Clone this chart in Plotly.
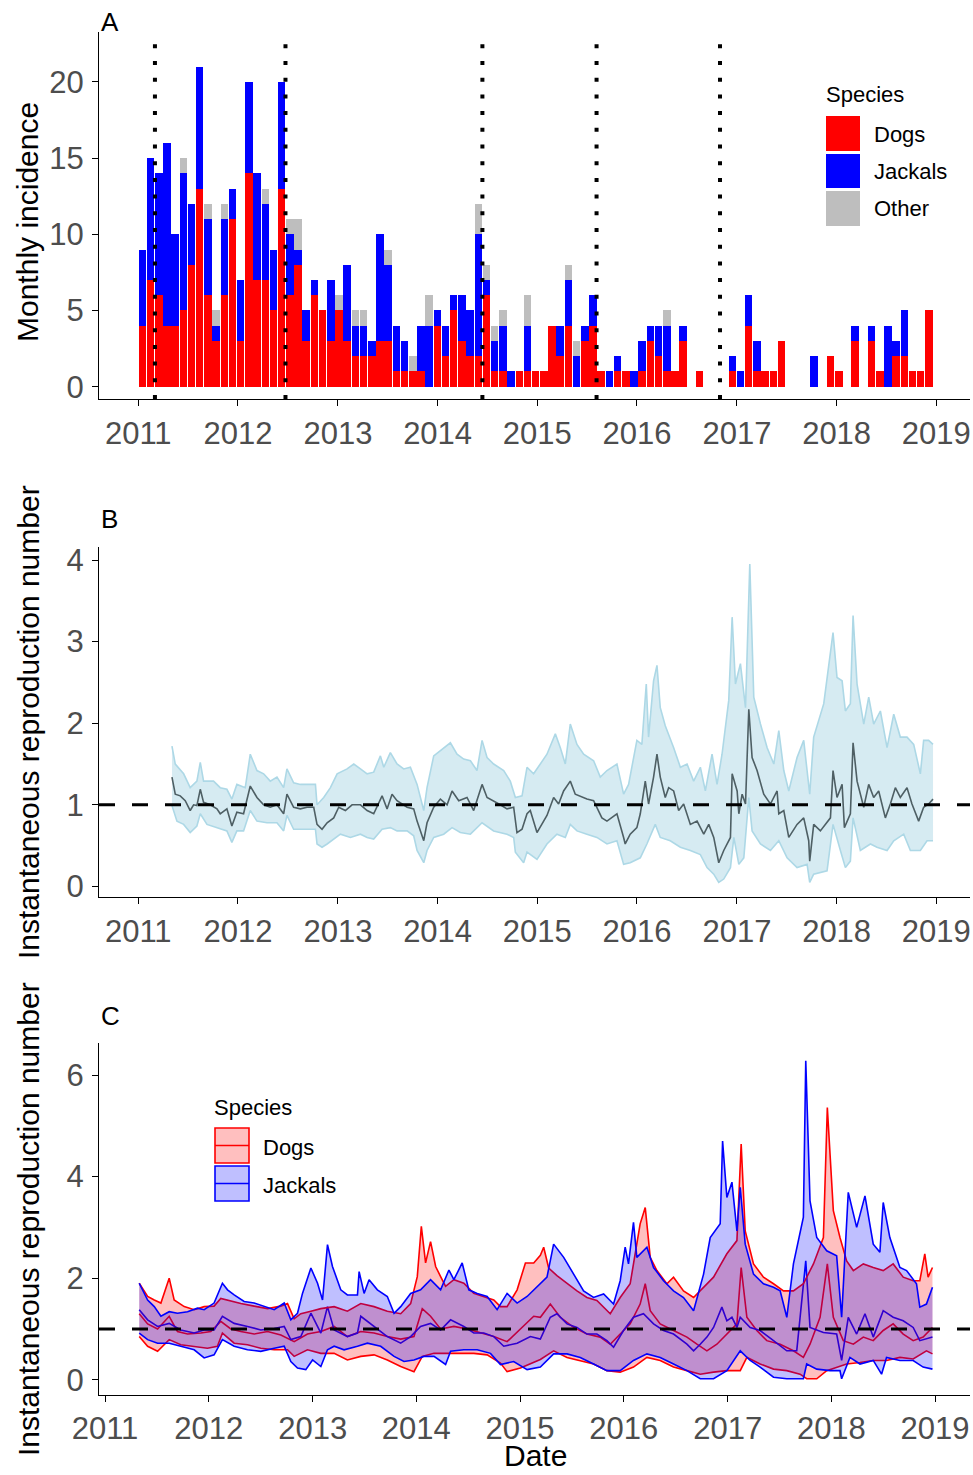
import pandas as pd
import plotly.graph_objects as go
from datetime import datetime

# ---------------- Panel A: monthly incidence (30-day bins from 2011-01-01) ----------------
bin_start = "2011-01-01"
bin_days = 30
dogs = [4, 7, 6, 4, 4, 5, 8, 13, 6, 3, 6, 11, 3, 14, 7, 7, 5, 13, 6, 8,
        3, 6, 5, 3, 5, 3, 2, 2, 2, 3, 3, 1, 1, 1, 1, 0, 4, 2, 5, 3,
        2, 2, 6, 1, 1, 0, 1, 1, 1, 1, 4, 2, 4, 0, 3, 4, 1, 0, 1, 1,
        0, 1, 3, 2, 1, 1, 3, 0, 1, 0, 0, 0, 1, 0, 4, 1, 1, 1, 3, 0,
        0, 0, 0, 0, 2, 1, 0, 3, 0, 3, 1, 0, 2, 2, 1, 1, 5]
jackals = [5, 8, 8, 12, 6, 9, 4, 8, 5, 1, 5, 2, 4, 6, 7, 5, 4, 7, 4, 1,
           2, 1, 0, 4, 0, 5, 2, 2, 1, 7, 5, 3, 2, 0, 3, 4, 1, 2, 1, 3,
           3, 8, 1, 2, 3, 1, 0, 3, 0, 0, 0, 2, 3, 2, 1, 2, 0, 1, 1, 0,
           1, 2, 1, 2, 3, 0, 1, 0, 0, 0, 0, 0, 1, 1, 2, 2, 0, 0, 0, 0,
           0, 0, 2, 0, 0, 0, 0, 1, 0, 1, 0, 4, 1, 3, 0, 0, 0]
other = [0, 0, 0, 0, 0, 1, 0, 0, 1, 1, 1, 0, 0, 0, 0, 1, 0, 0, 1, 2,
         0, 0, 0, 0, 1, 0, 1, 1, 0, 0, 1, 0, 0, 1, 0, 2, 0, 0, 0, 0,
         0, 2, 1, 1, 1, 0, 0, 2, 0, 0, 0, 0, 1, 1, 0, 0, 0, 0, 0, 0,
         0, 0, 0, 0, 1, 0, 0, 0, 0, 0, 0, 0, 0, 0, 0, 0, 0, 0, 0, 0,
         0, 0, 0, 0, 0, 0, 0, 0, 0, 0, 0, 0, 0, 0, 0, 0, 0]
event_dates = ["2011-03-03", "2012-06-23", "2014-06-14", "2015-08-06", "2016-10-31"]

# ---------------- Panel B: overall Rt (decimal years) ----------------
b_mean_t = [2011.338, 2011.371, 2011.421, 2011.471, 2011.521, 2011.555, 2011.588, 2011.622, 2011.655, 2011.722,
            2011.789, 2011.822, 2011.889, 2011.939, 2011.989, 2012.056, 2012.123, 2012.190, 2012.257, 2012.323,
            2012.390, 2012.457, 2012.490, 2012.557, 2012.624, 2012.691, 2012.758, 2012.791, 2012.841, 2012.892,
            2012.958, 2013.008, 2013.075, 2013.142, 2013.226, 2013.293, 2013.359, 2013.443, 2013.493, 2013.543,
            2013.593, 2013.694, 2013.760, 2013.794, 2013.861, 2013.894, 2013.961, 2014.028, 2014.095, 2014.145,
            2014.212, 2014.295, 2014.362, 2014.446, 2014.496, 2014.562, 2014.629, 2014.696, 2014.763, 2014.796,
            2014.847, 2014.897, 2014.930, 2014.997, 2015.064,
            2015.097, 2015.164, 2015.214, 2015.264, 2015.331, 2015.381, 2015.448, 2015.498, 2015.565, 2015.648,
            2015.699, 2015.799, 2015.866, 2015.882, 2015.932, 2015.999, 2016.033, 2016.083, 2016.116, 2016.166,
            2016.200, 2016.233, 2016.283, 2016.317, 2016.367, 2016.417, 2016.467, 2016.534, 2016.601, 2016.668,
            2016.718, 2016.768, 2016.818, 2016.868, 2016.935, 2016.952, 2017.002, 2017.019, 2017.052, 2017.086,
            2017.119, 2017.152, 2017.202, 2017.269, 2017.336, 2017.403, 2017.420, 2017.470, 2017.520, 2017.603,
            2017.670, 2017.720, 2017.730, 2017.770, 2017.837, 2017.938, 2017.964, 2018.004, 2018.055, 2018.078,
            2018.138, 2018.165, 2018.205, 2018.272, 2018.322, 2018.372, 2018.422, 2018.489, 2018.539, 2018.589,
            2018.639, 2018.706, 2018.756, 2018.823, 2018.873, 2018.923, 2018.967]
b_mean = [1.34, 1.13, 1.11, 1.05, 0.93, 1.00, 0.99, 1.19, 1.03, 1.00,
          0.95, 0.89, 0.95, 0.74, 0.91, 0.89, 1.23, 1.09, 1.00, 0.97,
          1.00, 0.89, 1.13, 0.97, 0.95, 0.97, 0.97, 0.76, 0.70, 0.78,
          0.84, 0.97, 0.93, 1.00, 1.00, 0.93, 0.89, 1.11, 0.95, 1.13,
          1.05, 0.97, 0.95, 0.80, 0.56, 0.78, 0.97, 1.07, 1.00, 1.17,
          1.05, 1.09, 0.93, 1.25, 1.09, 1.05, 1.00, 0.95, 0.97, 0.66,
          0.70, 0.89, 0.93, 0.66, 0.80,
          0.87, 1.09, 1.01, 1.17, 1.29, 1.13, 1.09, 1.07, 1.05, 0.84,
          0.80, 0.89, 0.60, 0.52, 0.64, 0.72, 0.89, 1.29, 1.01, 1.34,
          1.62, 1.34, 1.09, 1.21, 1.17, 0.93, 1.01, 0.76, 0.80, 0.64,
          0.76, 0.60, 0.29, 0.44, 0.60, 1.38, 1.17, 0.89, 1.13, 1.01,
          2.17, 1.58, 1.42, 1.13, 1.01, 1.17, 0.89, 0.93, 0.60, 0.76,
          0.84, 0.56, 0.31, 0.76, 0.68, 0.84, 1.42, 1.09, 1.25, 0.72,
          0.89, 1.76, 1.29, 0.97, 1.25, 1.09, 1.17, 0.84, 1.01, 1.21,
          1.09, 1.21, 1.01, 0.80, 0.97, 1.01, 1.07]
b_hi_t = [2011.338, 2011.371, 2011.455, 2011.521, 2011.588, 2011.622, 2011.655, 2011.755, 2011.822, 2011.889,
          2011.939, 2011.989, 2012.073, 2012.123, 2012.190, 2012.257, 2012.323, 2012.390, 2012.457, 2012.490,
          2012.557, 2012.624, 2012.691, 2012.775, 2012.791, 2012.858, 2012.925, 2012.992, 2013.092, 2013.159,
          2013.226, 2013.293, 2013.359, 2013.426, 2013.460, 2013.526, 2013.593, 2013.660, 2013.727, 2013.794,
          2013.861, 2013.894, 2013.961, 2014.028, 2014.128, 2014.195, 2014.262, 2014.329, 2014.395, 2014.446,
          2014.496, 2014.562, 2014.663, 2014.729, 2014.780, 2014.847, 2014.897, 2014.963, 2015.030,
          2015.097, 2015.181, 2015.231, 2015.281, 2015.331, 2015.398, 2015.465, 2015.565, 2015.632, 2015.699,
          2015.799, 2015.866, 2015.916, 2015.999, 2016.049, 2016.093, 2016.116, 2016.166, 2016.200, 2016.233,
          2016.283, 2016.367, 2016.434, 2016.501, 2016.567, 2016.634, 2016.684, 2016.751, 2016.801, 2016.851,
          2016.918, 2016.952, 2016.985, 2017.035, 2017.086, 2017.129, 2017.169, 2017.236, 2017.303, 2017.370,
          2017.420, 2017.470, 2017.520, 2017.603, 2017.670, 2017.730, 2017.770, 2017.871, 2017.964, 2018.004,
          2018.055, 2018.088, 2018.138, 2018.165, 2018.205, 2018.272, 2018.322, 2018.372, 2018.439, 2018.506,
          2018.573, 2018.639, 2018.706, 2018.773, 2018.840, 2018.873, 2018.923, 2018.967]
b_hi = [1.72, 1.50, 1.38, 1.21, 1.29, 1.52, 1.29, 1.29, 1.21, 1.19,
        1.07, 1.25, 1.21, 1.62, 1.42, 1.38, 1.29, 1.34, 1.21, 1.44,
        1.27, 1.25, 1.25, 1.25, 1.00, 1.09, 1.21, 1.38, 1.44, 1.50,
        1.44, 1.38, 1.40, 1.60, 1.46, 1.64, 1.50, 1.44, 1.46, 1.25,
        0.93, 1.21, 1.60, 1.66, 1.76, 1.62, 1.56, 1.54, 1.42, 1.79,
        1.58, 1.50, 1.42, 1.29, 1.09, 1.11, 1.46, 1.38, 1.50,
        1.62, 1.87, 1.70, 1.50, 1.99, 1.74, 1.62, 1.54, 1.34, 1.42,
        1.50, 1.13, 1.25, 1.79, 1.74, 2.48, 1.83, 2.52, 2.71, 2.19,
        1.97, 1.70, 1.46, 1.50, 1.29, 1.46, 1.17, 1.62, 1.25, 1.62,
        2.28, 3.30, 2.48, 2.73, 2.19, 3.95, 2.32, 1.99, 1.70, 1.50,
        1.91, 1.42, 1.17, 1.58, 1.79, 1.13, 1.83, 2.24, 3.11, 2.56,
        2.52, 2.15, 2.24, 3.32, 2.48, 1.99, 2.32, 1.99, 2.15, 1.70,
        2.11, 1.83, 1.83, 1.74, 1.38, 1.79, 1.79, 1.74]
b_lo_t = [2011.338, 2011.388, 2011.455, 2011.521, 2011.588, 2011.622, 2011.689, 2011.789, 2011.889, 2011.939,
          2011.989, 2012.056, 2012.123, 2012.190, 2012.290, 2012.390, 2012.457, 2012.490, 2012.557, 2012.691,
          2012.775, 2012.791, 2012.841, 2012.892, 2012.958, 2013.025, 2013.125, 2013.226, 2013.293, 2013.359,
          2013.443, 2013.526, 2013.593, 2013.694, 2013.760, 2013.794, 2013.861, 2013.894, 2013.961, 2014.061,
          2014.145, 2014.228, 2014.329, 2014.446, 2014.562, 2014.696, 2014.763, 2014.780, 2014.863, 2014.897,
          2014.997,
          2015.097, 2015.197, 2015.281, 2015.331, 2015.398, 2015.498, 2015.598, 2015.699, 2015.799, 2015.866,
          2015.932, 2016.033, 2016.099, 2016.183, 2016.233, 2016.333, 2016.434, 2016.534, 2016.634, 2016.701,
          2016.768, 2016.818, 2016.868, 2016.935, 2016.969, 2017.019, 2017.069, 2017.119, 2017.152, 2017.236,
          2017.336, 2017.420, 2017.503, 2017.603, 2017.704, 2017.730, 2017.770, 2017.904, 2017.964, 2018.038,
          2018.088, 2018.138, 2018.165, 2018.238, 2018.339, 2018.405, 2018.506, 2018.573, 2018.673, 2018.740,
          2018.840, 2018.907, 2018.967]
b_lo = [0.99, 0.80, 0.76, 0.66, 0.74, 0.89, 0.76, 0.72, 0.68, 0.54,
        0.68, 0.68, 0.93, 0.80, 0.78, 0.78, 0.68, 0.87, 0.70, 0.70,
        0.70, 0.52, 0.48, 0.52, 0.58, 0.64, 0.60, 0.64, 0.60, 0.58,
        0.70, 0.72, 0.68, 0.68, 0.62, 0.44, 0.29, 0.44, 0.60, 0.64,
        0.72, 0.66, 0.64, 0.78, 0.68, 0.64, 0.60, 0.42, 0.29, 0.42,
        0.33,
        0.52, 0.64, 0.60, 0.76, 0.68, 0.64, 0.60, 0.52, 0.56, 0.27,
        0.29, 0.35, 0.52, 0.76, 0.60, 0.56, 0.48, 0.44, 0.39, 0.23,
        0.15, 0.05, 0.09, 0.23, 0.60, 0.27, 0.35, 1.09, 0.68, 0.52,
        0.44, 0.56, 0.35, 0.23, 0.27, 0.05, 0.15, 0.19, 0.76, 0.44,
        0.23, 0.31, 0.84, 0.44, 0.52, 0.48, 0.44, 0.56, 0.64, 0.44,
        0.44, 0.56, 0.56]

# ---------------- Panel C: Rt by species (decimal years) ----------------
dog_hi_t = [2011.330, 2011.411, 2011.475, 2011.539, 2011.619, 2011.667, 2011.764, 2011.860, 2011.956, 2012.052,
            2012.116, 2012.213, 2012.309, 2012.437, 2012.566, 2012.694, 2012.758, 2012.822, 2012.886, 2012.983,
            2013.079, 2013.207, 2013.335, 2013.464, 2013.592, 2013.720, 2013.849, 2013.945, 2014.009, 2014.048,
            2014.089, 2014.137, 2014.186, 2014.234, 2014.282, 2014.362, 2014.458, 2014.554, 2014.651, 2014.747,
            2014.811, 2014.875, 2014.972, 2015.052, 2015.132, 2015.196,
            2015.228, 2015.276, 2015.356, 2015.453, 2015.549, 2015.645, 2015.741, 2015.870, 2015.966, 2016.062,
            2016.158, 2016.207, 2016.255, 2016.319, 2016.415, 2016.479, 2016.575, 2016.672, 2016.768, 2016.864,
            2016.992, 2017.089, 2017.130, 2017.169, 2017.249, 2017.345, 2017.442, 2017.538, 2017.634, 2017.730,
            2017.827, 2017.923, 2017.961, 2018.019, 2018.083, 2018.147, 2018.212, 2018.308, 2018.404, 2018.500,
            2018.596, 2018.693, 2018.789, 2018.853, 2018.901, 2018.933, 2018.975]
dog_hi = [1.90, 1.64, 1.57, 1.51, 2.00, 1.57, 1.44, 1.38, 1.44, 1.45,
          1.60, 1.55, 1.50, 1.45, 1.40, 1.45, 1.50, 1.20, 1.30, 1.35,
          1.40, 1.44, 1.35, 1.50, 1.44, 1.35, 1.30, 1.50, 2.03, 3.02,
          2.30, 2.72, 2.23, 2.03, 1.84, 1.97, 1.90, 1.70, 1.64, 1.57,
          1.44, 1.44, 1.77, 2.30, 2.30, 2.45,
          2.61, 2.20, 2.05, 1.89, 1.75, 1.62, 1.56, 1.30, 1.62, 1.89,
          3.07, 3.39, 2.41, 2.15, 1.89, 2.02, 1.75, 1.62, 1.82, 2.02,
          2.48, 2.74, 4.64, 2.93, 2.28, 2.02, 1.89, 1.75, 1.75, 1.89,
          2.28, 2.80, 5.36, 3.33, 2.80, 2.34, 2.15, 2.28, 2.21, 2.15,
          2.28, 2.02, 1.95, 1.95, 2.48, 2.02, 2.21]
dog_mean_t = [2011.330, 2011.411, 2011.507, 2011.619, 2011.699, 2011.796, 2011.924, 2012.020, 2012.116, 2012.213,
              2012.309, 2012.437, 2012.566, 2012.694, 2012.822, 2012.950, 2013.079, 2013.207, 2013.335, 2013.464,
              2013.592, 2013.720, 2013.849, 2013.977, 2014.057, 2014.137, 2014.234, 2014.362, 2014.490, 2014.619,
              2014.747, 2014.875, 2015.004, 2015.132,
              2015.196, 2015.292, 2015.388, 2015.517, 2015.645, 2015.773, 2015.870, 2015.966, 2016.062, 2016.158,
              2016.207, 2016.255, 2016.351, 2016.479, 2016.608, 2016.704, 2016.800, 2016.896, 2016.992, 2017.089,
              2017.130, 2017.185, 2017.281, 2017.377, 2017.506, 2017.634, 2017.730, 2017.794, 2017.891, 2017.961,
              2018.019, 2018.115, 2018.212, 2018.308, 2018.404, 2018.500, 2018.596, 2018.693, 2018.789, 2018.885,
              2018.975]
dog_mean = [1.30, 1.10, 1.00, 1.25, 0.95, 0.90, 0.92, 0.95, 1.15, 1.00,
            0.95, 0.90, 0.95, 0.88, 0.75, 0.90, 0.95, 1.05, 0.85, 0.95,
            0.92, 0.85, 0.80, 0.85, 1.40, 1.25, 1.00, 1.05, 1.00, 0.92,
            0.85, 0.75, 1.00, 1.25,
            1.23, 1.49, 1.23, 1.03, 0.90, 0.84, 0.70, 0.90, 1.10, 1.49,
            1.89, 1.36, 1.10, 0.97, 0.84, 0.70, 0.57, 0.70, 0.90, 1.10,
            2.21, 1.23, 0.97, 0.77, 0.70, 0.57, 0.44, 0.70, 1.23, 2.28,
            1.23, 0.77, 0.70, 0.84, 0.77, 0.97, 1.10, 0.90, 0.77, 0.84,
            1.03]
dog_lo_t = [2011.330, 2011.411, 2011.507, 2011.619, 2011.731, 2011.860, 2011.988, 2012.084, 2012.132, 2012.245,
            2012.373, 2012.501, 2012.630, 2012.758, 2012.822, 2012.950, 2013.079, 2013.207, 2013.335, 2013.464,
            2013.592, 2013.720, 2013.849, 2013.977, 2014.057, 2014.170, 2014.298, 2014.426, 2014.554, 2014.683,
            2014.811, 2014.875, 2015.004, 2015.196,
            2015.324, 2015.453, 2015.581, 2015.709, 2015.838, 2015.966, 2016.094, 2016.223, 2016.351, 2016.479,
            2016.608, 2016.736, 2016.864, 2016.992, 2017.121, 2017.185, 2017.313, 2017.442, 2017.570, 2017.698,
            2017.762, 2017.859, 2017.955, 2018.051, 2018.147, 2018.276, 2018.404, 2018.532, 2018.661, 2018.789,
            2018.917, 2018.975]
dog_lo = [0.85, 0.66, 0.56, 0.79, 0.69, 0.66, 0.62, 0.66, 0.92, 0.72,
          0.69, 0.62, 0.59, 0.59, 0.46, 0.59, 0.52, 0.52, 0.39, 0.46,
          0.49, 0.39, 0.26, 0.16, 0.46, 0.52, 0.52, 0.52, 0.52, 0.49,
          0.33, 0.16, 0.23, 0.40,
          0.57, 0.44, 0.38, 0.31, 0.18, 0.15, 0.25, 0.44, 0.38, 0.25,
          0.18, 0.11, 0.15, 0.18, 0.18, 0.44, 0.31, 0.21, 0.18, 0.11,
          0.02, 0.02, 0.18, 0.25, 0.31, 0.34, 0.38, 0.38, 0.44, 0.41,
          0.57, 0.51]
jac_hi_t = [2011.330, 2011.411, 2011.475, 2011.539, 2011.619, 2011.699, 2011.796, 2011.892, 2011.956, 2012.052,
            2012.132, 2012.181, 2012.245, 2012.341, 2012.437, 2012.533, 2012.630, 2012.726, 2012.790, 2012.854,
            2012.902, 2012.983, 2013.047, 2013.095, 2013.143, 2013.191, 2013.271, 2013.335, 2013.432, 2013.448,
            2013.496, 2013.544, 2013.624, 2013.720, 2013.785, 2013.849, 2013.945, 2014.041, 2014.137, 2014.234,
            2014.314, 2014.362, 2014.442, 2014.506, 2014.587, 2014.683, 2014.779, 2014.875, 2014.972, 2015.068,
            2015.196,
            2015.260, 2015.324, 2015.372, 2015.421, 2015.517, 2015.613, 2015.709, 2015.806, 2015.902, 2015.966,
            2016.014, 2016.046, 2016.094, 2016.126, 2016.223, 2016.287, 2016.383, 2016.479, 2016.575, 2016.672,
            2016.768, 2016.832, 2016.928, 2016.951, 2016.992, 2017.041, 2017.089, 2017.121, 2017.169, 2017.249,
            2017.345, 2017.442, 2017.506, 2017.570, 2017.634, 2017.730, 2017.753, 2017.794, 2017.859, 2017.955,
            2018.051, 2018.099, 2018.163, 2018.244, 2018.324, 2018.404, 2018.468, 2018.500, 2018.564, 2018.661,
            2018.725, 2018.821, 2018.853, 2018.917, 2018.975]
jac_hi = [1.90, 1.57, 1.44, 1.25, 1.34, 1.31, 1.34, 1.41, 1.38, 1.51,
          1.90, 1.77, 1.67, 1.54, 1.51, 1.44, 1.38, 1.51, 1.18, 1.31,
          1.70, 2.20, 1.90, 1.57, 2.66, 2.23, 1.77, 1.67, 1.67, 2.13,
          1.70, 1.97, 1.77, 1.64, 1.31, 1.44, 1.70, 1.77, 1.97, 1.77,
          2.16, 1.97, 2.30, 1.77, 1.70, 1.64, 1.38, 1.70, 1.51, 1.64,
          1.90,
          2.02, 2.67, 2.54, 2.41, 2.08, 1.75, 1.62, 1.69, 1.49, 1.95,
          2.61, 2.28, 3.10, 2.41, 2.61, 2.21, 1.95, 1.75, 1.62, 1.36,
          2.08, 2.80, 3.07, 4.70, 3.59, 3.89, 2.93, 3.79, 2.67, 2.08,
          1.89, 1.82, 1.75, 1.23, 2.28, 3.20, 6.28, 3.52, 2.80, 2.54,
          2.44, 1.23, 3.69, 3.00, 3.62, 2.67, 2.51, 3.49, 2.80, 2.21,
          2.15, 1.89, 1.43, 1.49, 1.82]
jac_mean_t = [2011.330, 2011.411, 2011.507, 2011.619, 2011.731, 2011.860, 2011.956, 2012.052, 2012.132, 2012.245,
              2012.373, 2012.501, 2012.630, 2012.726, 2012.790, 2012.886, 2012.983, 2013.079, 2013.143, 2013.207,
              2013.335, 2013.432, 2013.464, 2013.592, 2013.720, 2013.849, 2013.945, 2014.041, 2014.137, 2014.234,
              2014.330, 2014.458, 2014.554, 2014.651, 2014.747, 2014.843, 2014.972, 2015.100, 2015.196,
              2015.292, 2015.356, 2015.453, 2015.549, 2015.645, 2015.741, 2015.838, 2015.902, 2015.998, 2016.094,
              2016.190, 2016.287, 2016.383, 2016.479, 2016.608, 2016.672, 2016.736, 2016.800, 2016.864, 2016.944,
              2016.992, 2017.041, 2017.089, 2017.121, 2017.217, 2017.313, 2017.442, 2017.570, 2017.666, 2017.753,
              2017.794, 2017.923, 2018.051, 2018.099, 2018.163, 2018.244, 2018.324, 2018.404, 2018.500, 2018.596,
              2018.693, 2018.789, 2018.853, 2018.975]
jac_mean = [1.38, 1.18, 1.05, 1.11, 0.98, 0.92, 0.98, 0.98, 1.25, 1.11,
            1.05, 0.98, 1.01, 1.05, 0.79, 0.85, 1.31, 0.92, 1.44, 0.98,
            0.85, 0.92, 1.25, 1.05, 0.85, 0.72, 0.85, 1.05, 1.11, 0.98,
            1.18, 1.05, 0.92, 0.92, 0.85, 0.66, 0.72, 0.85, 0.80,
            1.23, 1.30, 1.10, 1.03, 0.90, 0.90, 0.77, 0.64, 0.97, 1.23,
            1.30, 1.10, 0.97, 0.90, 0.70, 0.57, 0.70, 0.84, 1.03, 1.43,
            1.16, 1.23, 1.03, 1.23, 1.03, 0.97, 0.77, 0.57, 0.57, 2.34,
            1.03, 0.93, 0.90, 0.38, 1.23, 0.90, 1.30, 0.84, 1.36, 1.23,
            1.16, 1.03, 0.77, 0.84]
jac_lo_t = [2011.330, 2011.411, 2011.507, 2011.619, 2011.731, 2011.860, 2011.956, 2012.052, 2012.132, 2012.245,
            2012.373, 2012.501, 2012.630, 2012.726, 2012.790, 2012.854, 2012.934, 2012.999, 2013.079, 2013.143,
            2013.207, 2013.303, 2013.432, 2013.528, 2013.656, 2013.785, 2013.881, 2013.977, 2014.073, 2014.170,
            2014.282, 2014.330, 2014.458, 2014.587, 2014.715, 2014.811, 2014.939, 2015.068, 2015.196,
            2015.324, 2015.453, 2015.581, 2015.709, 2015.838, 2015.966, 2016.094, 2016.223, 2016.351, 2016.479,
            2016.608, 2016.736, 2016.864, 2016.992, 2017.121, 2017.217, 2017.313, 2017.442, 2017.570, 2017.730,
            2017.762, 2017.859, 2017.987, 2018.083, 2018.099, 2018.179, 2018.276, 2018.404, 2018.484, 2018.532,
            2018.661, 2018.789, 2018.885, 2018.975]
jac_lo = [0.92, 0.79, 0.72, 0.72, 0.66, 0.59, 0.43, 0.49, 0.79, 0.66,
          0.59, 0.56, 0.62, 0.66, 0.36, 0.23, 0.20, 0.39, 0.26, 0.59,
          0.66, 0.59, 0.66, 0.72, 0.66, 0.46, 0.36, 0.39, 0.46, 0.46,
          0.30, 0.56, 0.59, 0.59, 0.52, 0.30, 0.36, 0.20, 0.25,
          0.51, 0.51, 0.44, 0.31, 0.18, 0.18, 0.38, 0.51, 0.44, 0.31,
          0.18, 0.02, 0.02, 0.18, 0.57, 0.38, 0.25, 0.05, 0.02, 0.02,
          0.31, 0.21, 0.18, 0.18, 0.02, 0.44, 0.31, 0.38, 0.11, 0.44,
          0.38, 0.38, 0.25, 0.21]

years = list(range(2011, 2020))


# ---------------- helpers ----------------
def to_date(y):
    yr = int(y)
    a = datetime(yr, 1, 1)
    b = datetime(yr + 1, 1, 1)
    return a + (b - a) * (y - yr)


def dates(ts):
    return [to_date(t) for t in ts]


W, H = 973, 1475
FONT = "Liberation Sans, Arial, sans-serif"


def px(x):
    return x / W


def py(y):
    return 1 - y / H


fig = go.Figure()

# Panel A bars
bins = pd.date_range(bin_start, periods=len(dogs), freq=f"{bin_days}D") + pd.Timedelta(days=bin_days / 2)
bar_w = 27.5 * 86400000
for name, vals, col in [("Dogs", dogs, "#ff0000"), ("Jackals", jackals, "#0000ff"), ("Other", other, "#bebebe")]:
    fig.add_trace(go.Bar(x=bins, y=vals, name=name, marker=dict(color=col, line=dict(width=0)),
                         width=bar_w, xaxis="x", yaxis="y", showlegend=False))

# Panel B
bh, bl = dates(b_hi_t), dates(b_lo_t)
fig.add_trace(go.Scatter(x=bh + bl[::-1], y=b_hi + b_lo[::-1], fill="toself",
                         fillcolor="rgba(173,216,230,0.5)", line=dict(width=0), mode="lines",
                         hoverinfo="skip", xaxis="x2", yaxis="y2", showlegend=False))
for tt, vv in [(bh, b_hi), (bl, b_lo)]:
    fig.add_trace(go.Scatter(x=tt, y=vv, mode="lines", line=dict(color="#add8e6", width=1.6),
                             xaxis="x2", yaxis="y2", showlegend=False))
fig.add_trace(go.Scatter(x=dates(b_mean_t), y=b_mean, mode="lines", line=dict(color="#4e5f64", width=1.6),
                         xaxis="x2", yaxis="y2", showlegend=False))

# Panel C
fig.add_trace(go.Scatter(x=dates(dog_mean_t), y=dog_mean, mode="lines", line=dict(color="#ff0000", width=1.6),
                         xaxis="x3", yaxis="y3", showlegend=False))
fig.add_trace(go.Scatter(x=dates(jac_mean_t), y=jac_mean, mode="lines", line=dict(color="#0000ff", width=1.6),
                         xaxis="x3", yaxis="y3", showlegend=False))
for hi_t, hi, lo_t, lo, col, fcol in [
        (dog_hi_t, dog_hi, dog_lo_t, dog_lo, "#ff0000", "rgba(255,0,0,0.25)"),
        (jac_hi_t, jac_hi, jac_lo_t, jac_lo, "#0000ff", "rgba(0,0,255,0.25)")]:
    ht, lt = dates(hi_t), dates(lo_t)
    fig.add_trace(go.Scatter(x=ht + lt[::-1], y=hi + lo[::-1], fill="toself", fillcolor=fcol,
                             line=dict(width=0), mode="lines", hoverinfo="skip",
                             xaxis="x3", yaxis="y3", showlegend=False))
    for tt, vv in [(ht, hi), (lt, lo)]:
        fig.add_trace(go.Scatter(x=tt, y=vv, mode="lines", line=dict(color=col, width=1.6),
                                 xaxis="x3", yaxis="y3", showlegend=False))

# axes
xd = [px(99), px(970)]
tickvals = [datetime(y, 1, 1) for y in years]
ticktext = [str(y) for y in years]
axis_common = dict(showline=True, linecolor="black", linewidth=1.3, ticks="outside", ticklen=6,
                   tickwidth=1.3, tickcolor="black", showgrid=False, zeroline=False, automargin=False,
                   tickfont=dict(family=FONT, size=31, color="#4d4d4d"))
xr_ab = [to_date(2010.606), to_date(2019.338)]
xr_c = [to_date(2010.942), to_date(2019.337)]
fig.update_layout(
    template="none",
    xaxis=dict(domain=xd, anchor="y", type="date", range=xr_ab, tickvals=tickvals, ticktext=ticktext,
               ticklabelstandoff=1, **axis_common),
    yaxis=dict(domain=[py(399), py(32)], anchor="x", range=[-0.81, 23.28], tickvals=[0, 5, 10, 15, 20],
               ticklabelstandoff=2, **axis_common),
    xaxis2=dict(domain=xd, anchor="y2", type="date", range=xr_ab, tickvals=tickvals, ticktext=ticktext,
                ticklabelstandoff=1, **axis_common),
    yaxis2=dict(domain=[py(897), py(547)], anchor="x2", range=[-0.13, 4.16], tickvals=[0, 1, 2, 3, 4],
                ticklabelstandoff=2, **axis_common),
    xaxis3=dict(domain=xd, anchor="y3", type="date", range=xr_c, tickvals=tickvals, ticktext=ticktext,
                ticklabelstandoff=0, **axis_common),
    yaxis3=dict(domain=[py(1395), py(1043)], anchor="x3", range=[-0.3, 6.63], tickvals=[0, 2, 4, 6],
                ticklabelstandoff=2, **axis_common),
    barmode="stack", bargap=0,
    width=W, height=H, margin=dict(l=0, r=0, t=0, b=0, autoexpand=False),
    plot_bgcolor="white", paper_bgcolor="white", showlegend=False,
    font=dict(family=FONT, color="black"),
)

shapes = []
for d in event_dates:
    shapes.append(dict(type="line", xref="x", yref="y domain", x0=d, x1=d, y0=0, y1=1,
                       line=dict(color="black", width=4, dash="4px,12.7px")))
for yr_ in ["y2", "y3"]:
    shapes.append(dict(type="line", xref=f"x{yr_[1]} domain", yref=yr_, x0=0, x1=1, y0=1, y1=1,
                       line=dict(color="black", width=3, dash="16px,17px")))
# legend A keys
for (y0, y1), col in zip([(116, 151), (154, 188), (191, 226)], ["#ff0000", "#0000ff", "#bebebe"]):
    shapes.append(dict(type="rect", xref="paper", yref="paper", x0=px(826), x1=px(860),
                       y0=py(y1), y1=py(y0), fillcolor=col, line=dict(width=0)))
# legend C keys
for (y0, y1), col, fcol in zip([(1128, 1163), (1166, 1201)], ["#ff0000", "#0000ff"],
                               ["rgba(255,0,0,0.25)", "rgba(0,0,255,0.25)"]):
    shapes.append(dict(type="rect", xref="paper", yref="paper", x0=px(215), x1=px(249),
                       y0=py(y1), y1=py(y0), fillcolor=fcol, line=dict(color=col, width=1.6)))
    ym = (y0 + y1) / 2
    shapes.append(dict(type="line", xref="paper", yref="paper", x0=px(215), x1=px(249),
                       y0=py(ym), y1=py(ym), line=dict(color=col, width=1.6)))
fig.update_layout(shapes=shapes)

ann = []


def txt(x, y, s, size, anchor="left", angle=0, color="black"):
    ann.append(dict(x=px(x), y=py(y), xref="paper", yref="paper", text=s, showarrow=False,
                    xanchor=anchor, yanchor="middle", textangle=angle,
                    font=dict(family=FONT, size=size, color=color)))


txt(99, 22, "A", 26)
txt(99, 519, "B", 26)
txt(99, 1016, "C", 26)
txt(28, 222, "Monthly incidence", 30, anchor="center", angle=-90)
txt(28, 722, "Instantaneous reproduction number", 30, anchor="center", angle=-90)
txt(28, 1219, "Instantaneous reproduction number", 30, anchor="center", angle=-90)
txt(535, 1455, "Date", 30, anchor="center")
txt(824, 95, "Species", 22)
txt(872, 134, "Dogs", 22)
txt(872, 172, "Jackals", 22)
txt(872, 209, "Other", 22)
txt(212, 1107, "Species", 22)
txt(261, 1147, "Dogs", 22)
txt(261, 1185, "Jackals", 22)
fig.update_layout(annotations=ann)

fig.write_html("out.html", default_width="973px", default_height="1475px",
               config={"displayModeBar": False},
               post_script="document.body.style.margin='0';document.body.style.overflow='hidden';")
